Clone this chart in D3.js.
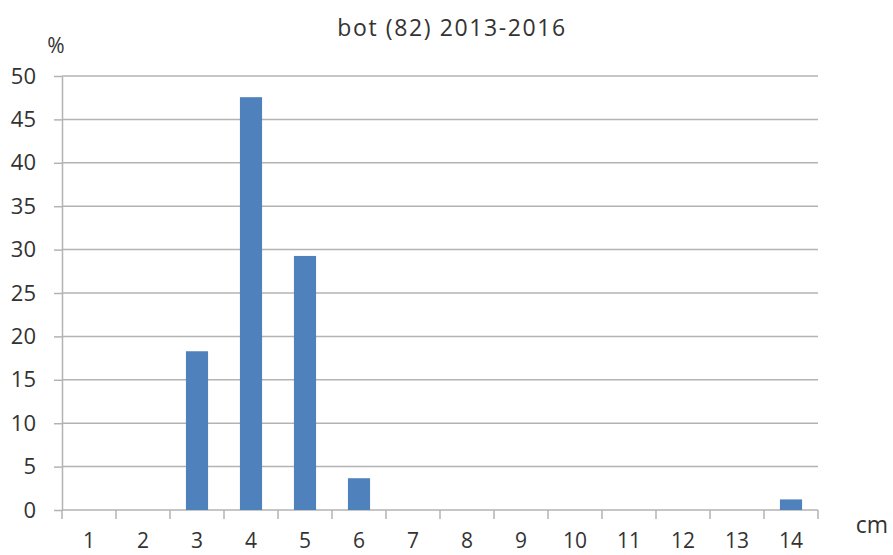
<!DOCTYPE html>
<html>
<head>
<meta charset="utf-8">
<script src="https://cdn.jsdelivr.net/npm/d3@7"></script>
<style>
  body { margin: 0; background: #fff; }
  text { font-family: "Open Sans", "Noto Sans", sans-serif; fill: #333; }
</style>
</head>
<body>
<div class="chart_container"></div>
<script>
var width = 893
var height = 555

// data: percentage of 82 fish per length class (cm)
var lengths = [1, 2, 3, 4, 5, 6, 7, 8, 9, 10, 11, 12, 13, 14]
var percents = [0, 0, 18.29, 47.56, 29.27, 3.66, 0, 0, 0, 0, 0, 0, 0, 1.22]
var yTicks = [0, 5, 10, 15, 20, 25, 30, 35, 40, 45, 50]
var title = "bot (82) 2013-2016"

var plotLeft = 62, plotRight = 818, plotTop = 76, plotBottom = 510

var svg = d3.select(".chart_container").append("svg")
            .attr("width", width)
            .attr("height", height)

var x = d3.scaleBand()
          .domain(lengths)
          .range([plotLeft, plotRight])
          .paddingInner(0.59)
          .paddingOuter(0.295)

var xEdges = d3.scaleLinear()
               .domain([0, lengths.length])
               .range([plotLeft, plotRight])

var y = d3.scaleLinear()
          .domain([0, 50])
          .range([plotBottom, plotTop])

// gridlines
svg.append("g")
  .selectAll("line")
  .data(yTicks.slice(1))
  .enter()
  .append("line")
  .attr("x1", plotLeft)
  .attr("x2", plotRight)
  .attr("y1", y)
  .attr("y2", y)
  .style("stroke", "#b3b3b3")
  .style("stroke-width", 1.5)

// y axis
var axisLeft = d3.axisLeft(y).tickValues(yTicks)
                             .tickSizeInner(8)
                             .tickSizeOuter(0)
                             .tickPadding(18)

var gy = svg.append("g")
  .attr("transform", "translate(" + plotLeft + ",0)")
  .call(axisLeft)
gy.selectAll("line").style("stroke", "#b3b3b3").style("stroke-width", 1.5)
gy.select(".domain").style("stroke", "#b3b3b3").style("stroke-width", 1.5)
gy.selectAll("text").style("font-size", "22px").style("fill", "#333")
  .style("font-family", "'Open Sans', sans-serif")

// x axis: ticks on category boundaries
var gx = svg.append("g")
  .attr("transform", "translate(0," + plotBottom + ")")
gx.append("line")
  .attr("x1", plotLeft).attr("x2", plotRight)
  .style("stroke", "#b3b3b3").style("stroke-width", 1.5)
gx.selectAll(".tk")
  .data(d3.range(lengths.length + 1))
  .enter()
  .append("line")
  .attr("class", "tk")
  .attr("x1", xEdges).attr("x2", xEdges)
  .attr("y1", 0).attr("y2", 9)
  .style("stroke", "#b3b3b3").style("stroke-width", 1.5)
gx.selectAll("text")
  .data(lengths)
  .enter()
  .append("text")
  .attr("x", function (d) { return x(d) + x.bandwidth() / 2 })
  .attr("y", 38)
  .style("text-anchor", "middle")
  .style("font-size", "21px")
  .text(function (d) { return d })

// bars
svg.selectAll("rect")
  .data(percents)
  .enter()
  .append("rect")
  .attr("x", function (d, i) { return x(lengths[i]) })
  .attr("y", function (d) { return y(d) })
  .attr("width", x.bandwidth())
  .attr("height", function (d) { return plotBottom - y(d) })
  .style("fill", "#4f81bd")

// labels
svg.append("text")
  .attr("x", 452)
  .attr("y", 36)
  .style("text-anchor", "middle")
  .style("font-size", "23px")
  .style("letter-spacing", "1.6px")
  .text(title)

svg.append("text")
  .attr("x", 56)
  .attr("y", 53)
  .style("text-anchor", "middle")
  .style("font-size", "21px")
  .text("%")

svg.append("text")
  .attr("x", 872)
  .attr("y", 533)
  .style("text-anchor", "middle")
  .style("font-size", "23px")
  .text("cm")
</script>
</body>
</html>
